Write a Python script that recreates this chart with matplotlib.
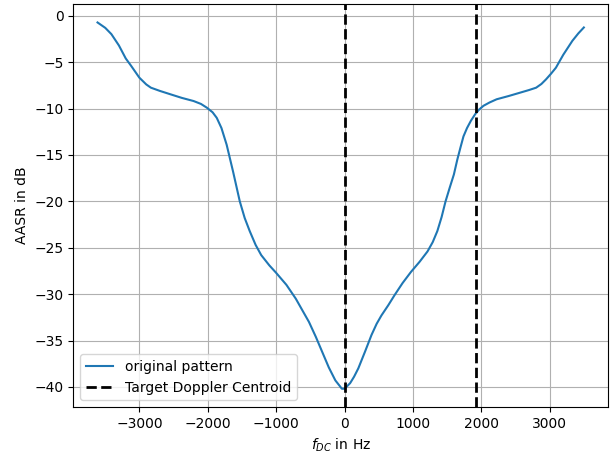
import numpy as np
import matplotlib.pyplot as plt

# Doppler frequency (Hz) and AASR (dB)
f_dc = [-3613, -3500, -3410, -3300, -3200, -3121, -3001, -2900, -2832, -2700, -2543,
        -2380, -2207, -2100, -2013, -1930, -1869, -1800, -1724, -1630, -1532, -1460,
        -1387, -1300, -1218, -1100, -1001, -850, -712, -620, -520, -420, -328, -230,
        -134, -70, -39, 0, 82, 140, 202, 300, 395, 470, 540, 640, 733, 850, 973,
        1100, 1214, 1290, 1358, 1420, 1478, 1540, 1600, 1650, 1696, 1740, 1792,
        1850, 1912, 1970, 2033, 2120, 2225, 2400, 2562, 2700, 2803, 2880, 2948,
        3020, 3092, 3200, 3333, 3420, 3501]
aasr = [-0.72, -1.3, -1.98, -3.2, -4.6, -5.4, -6.67, -7.4, -7.75, -8.1, -8.47,
        -8.85, -9.19, -9.5, -9.91, -10.4, -11.0, -12.1, -13.9, -16.8, -20.0, -21.8,
        -23.2, -24.7, -25.8, -26.9, -27.7, -29.0, -30.5, -31.7, -33.0, -34.6, -36.2,
        -37.9, -39.3, -39.9, -40.2, -40.2, -39.6, -38.9, -38.0, -36.2, -34.4, -33.2,
        -32.3, -31.2, -30.1, -28.8, -27.6, -26.5, -25.4, -24.4, -23.2, -21.7, -20.0,
        -18.5, -17.1, -15.5, -14.2, -13.0, -12.1, -11.3, -10.6, -10.1, -9.7, -9.35,
        -9.0, -8.65, -8.3, -8.0, -7.75, -7.35, -6.85, -6.25, -5.6, -4.2, -2.7,
        -1.9, -1.26]

centroids = [0, 1925]

fig, ax = plt.subplots(figsize=(6.1, 4.61), dpi=100)
fig.subplots_adjust(left=0.12, right=0.997, bottom=0.117, top=0.991)

ax.plot(f_dc, aasr, label='original pattern')
for i, c in enumerate(centroids):
    ax.axvline(c, color='k', linestyle='--', linewidth=2,
               label='Target Doppler Centroid' if i == 0 else None)

ax.set_xlabel('$f_{DC}$ in Hz')
ax.set_ylabel('AASR in dB')
ax.grid(True)
ax.legend(loc='lower left')

plt.savefig('out.png')
